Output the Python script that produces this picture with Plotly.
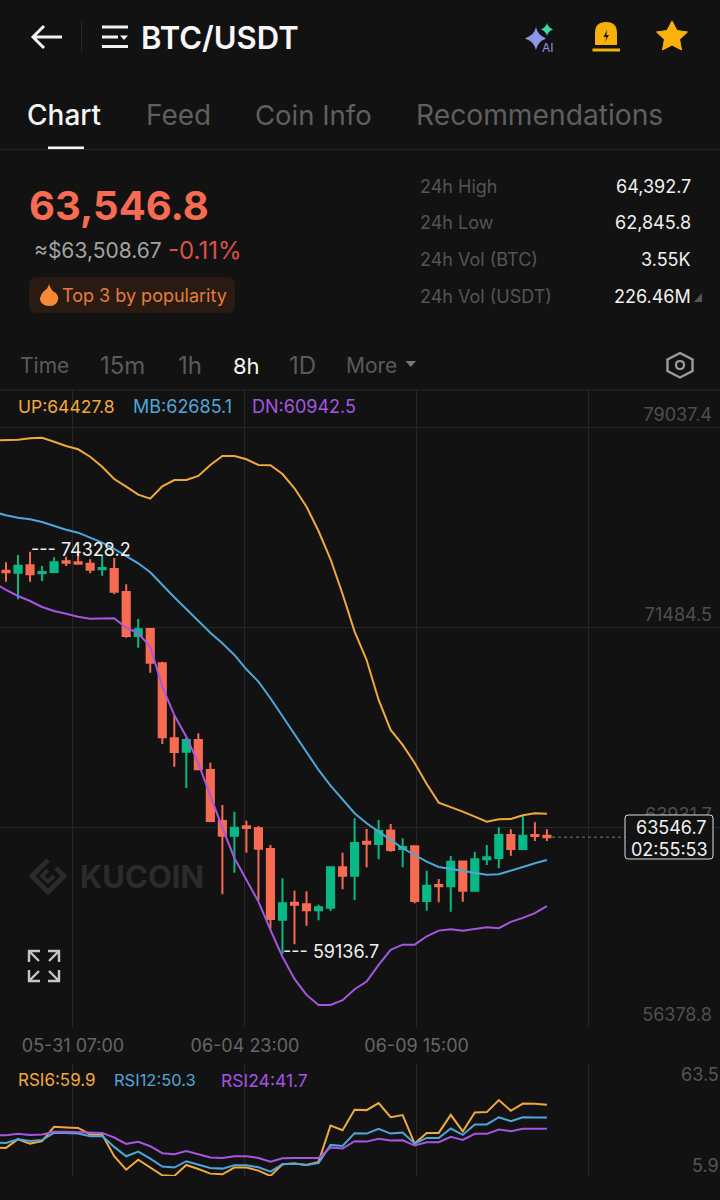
import re
import plotly.graph_objects as go

# 8h candles
opens = [73611, 73536, 73815, 73513, 73562, 73966, 73928, 73876, 73664, 73675, 72807, 71146,
         71410, 70115, 67283, 66777, 67219, 66086, 64160, 63605, 63960, 63884, 63103, 60433,
         61075, 61015, 60788, 60886, 62412, 62095, 63378, 63292, 63801, 63103, 63205, 61139,
         61743, 61694, 62630, 61528, 62714, 62763, 63631, 63103, 63631, 63605]
highs = [73928, 74204, 74328.2, 73789, 74117, 74140, 74280, 74042, 74204, 74091, 73098, 71788,
         71410, 70175, 68125, 67294, 67472, 66361, 64764, 64511, 64171, 63971, 63254, 61996,
         61528, 61505, 60999, 62412, 62963, 64262, 63858, 64198, 64047, 63507, 63205, 62283,
         61970, 62838, 62642, 63001, 63254, 63922, 63847, 64360, 64111, 63847]
lows = [73196, 72531, 73196, 73222, 73513, 73789, 73853, 73513, 73422, 72731, 71081, 70704,
        69760, 67068, 66210, 65406, 66112, 64111, 61392, 62208, 62963, 61177, 60071, 59136.7,
        59504, 60206, 60410, 60762, 61581, 61177, 62412, 62714, 63001, 62412, 61052, 60773,
        61090, 60735, 61113, 61528, 62499, 62374, 62850, 63065, 63405, 63405]
closes = [73551, 73800, 73475, 73562, 73928, 73913, 73876, 73649, 73713, 72818, 71146, 71399,
          70137, 67319, 66765, 67219, 66112, 64160, 63605, 63907, 63896, 63114, 60459, 61052,
          60999, 60788, 60901, 62412, 62095, 63329, 63303, 63782, 63065, 63178, 61139, 61717,
          61694, 62623, 61528, 62714, 62789, 63631, 63103, 63605, 63593, 63546.7]

# bollinger bands, first point is the candle cut off at the left edge
boll_up = [78535, 78535, 78558, 78610, 78633, 78482, 78320, 78195, 77916, 77538, 77074, 76783,
           76481, 76330, 76798, 77036, 77036, 77187, 77602, 77942, 77942, 77818, 77602, 77591,
           77262, 76722, 76028, 75110, 74042, 72731, 71308, 70239, 68729, 67596, 67030, 66350,
           65557, 64851, 64689, 64511, 64322, 64133, 64224, 64235, 64375, 64450, 64427.8]
boll_mb = [75828, 75703, 75613, 75552, 75450, 75299, 75159, 75046, 74872, 74669, 74431, 74167,
           73891, 73551, 73071, 72607, 72165, 71723, 71270, 70870, 70428, 69888, 69420, 68793,
           68125, 67471, 66777, 66086, 65493, 64953, 64451, 64073, 63771, 63443, 63129, 62876,
           62623, 62423, 62348, 62272, 62197, 62133, 62148, 62299, 62423, 62563, 62685.1]
boll_dn = [73158, 72883, 72656, 72467, 72241, 72090, 71988, 71875, 71799, 71814, 71814, 71459,
           71248, 70742, 69231, 68160, 67342, 66337, 65077, 63896, 62763, 61932, 61113, 60044,
           59025, 58194, 57590, 57212, 57212, 57390, 57805, 58092, 58722, 59289, 59489, 59489,
           59806, 60018, 60071, 60018, 60082, 60146, 60109, 60347, 60498, 60676, 60942.5]

rsi6 = [27.5, 27.2, 33.8, 30.5, 32.3, 43.2, 42.7, 42.4, 37.4, 37.4, 20.9, 10.7, 18.3, 12.3, 6.4, 5.9,
        14.3, 11.2, 7.7, 7.2, 12.3, 12.3, 10.0, 5.9, 14.8, 15.3, 14.3, 16.6, 44.2, 40.7, 56.1, 55.9,
        61.2, 50.5, 52.1, 30.5, 38.6, 38.6, 52.3, 39.7, 54.1, 54.4, 63.5, 55.4, 60.9, 60.7, 59.9]
rsi12 = [31.3, 31.0, 33.8, 32.5, 33.3, 38.6, 38.6, 38.1, 36.1, 36.3, 28.0, 20.9, 24.4, 19.1, 13.1, 12.3,
         17.1, 14.8, 12.0, 11.5, 14.0, 14.0, 12.5, 9.2, 14.8, 15.3, 14.3, 15.8, 29.5, 28.7, 38.4, 38.1,
         41.7, 38.1, 38.9, 30.5, 34.8, 34.8, 41.9, 37.1, 45.0, 45.0, 50.5, 47.5, 50.5, 50.3, 50.3]
rsi24 = [36.9, 36.9, 37.9, 37.1, 37.4, 39.4, 39.4, 39.1, 38.4, 38.6, 35.1, 30.3, 31.8, 28.5, 23.2, 22.4,
         24.9, 22.4, 19.9, 19.6, 20.9, 20.9, 19.6, 16.8, 19.4, 19.6, 19.4, 19.6, 27.5, 26.7, 32.3, 32.0,
         34.1, 32.8, 33.0, 29.0, 31.5, 31.5, 35.6, 33.3, 37.9, 37.9, 41.2, 39.9, 41.7, 41.7, 41.7]

price_ticks = [79037.4, 71484.5, 63931.7, 56378.8]
date_ticks = [5.57, 19.88, 34.16, 48.45]
date_labels = ["05-31 07:00", "06-04 23:00", "06-09 15:00", ""]

candle_x = list(range(len(opens)))
line_x = list(range(-1, len(opens)))

BG = "#121212"
GRID = "#272727"
RED = "#f66b52"
GREEN = "#08b985"
ORANGE = "#f2a93b"
BLUE = "#4fa6da"
PURPLE = "#a656e2"
FONT = "Inter"


def pth(d):
    # path written in screen pixels -> paper fractions
    out, is_x = [], True
    for tok in re.findall(r"[A-Za-z]|-?\d+\.?\d*", d):
        if tok.isalpha():
            out.append(tok)
            is_x = True
        else:
            out.append(f"{float(tok) / 720:.5f}" if is_x else f"{1 - float(tok) / 1200:.5f}")
            is_x = not is_x
    return " ".join(out)


shapes = []


def draw(d, fill=None, line=None, width=0):
    shapes.append(dict(type="path", path=pth(d), xref="paper", yref="paper", layer="above",
                       fillcolor=fill or "rgba(0,0,0,0)",
                       line=dict(color=line or "rgba(0,0,0,0)", width=width)))


annotations = []


def label(x, y, text, size, color, anchor="left", weight=400):
    annotations.append(dict(x=x / 720, y=1 - y / 1200, xref="paper", yref="paper", text=text,
                            showarrow=False, xanchor=anchor, yanchor="middle", borderpad=0,
                            font=dict(family=FONT, size=size, color=color, weight=weight)))


fig = go.Figure()

fig.add_trace(go.Candlestick(
    x=candle_x, open=opens, high=highs, low=lows, close=closes,
    increasing=dict(line=dict(color=GREEN, width=2), fillcolor=GREEN),
    decreasing=dict(line=dict(color=RED, width=2), fillcolor=RED),
    whiskerwidth=0, showlegend=False, hoverinfo="skip", xaxis="x", yaxis="y",
))
for vals, col in [(boll_up, ORANGE), (boll_mb, BLUE), (boll_dn, PURPLE)]:
    fig.add_trace(go.Scatter(x=line_x, y=vals, mode="lines", line=dict(color=col, width=2),
                             showlegend=False, hoverinfo="skip", xaxis="x", yaxis="y"))
for vals, col in [(rsi6, ORANGE), (rsi12, BLUE), (rsi24, PURPLE)]:
    fig.add_trace(go.Scatter(x=line_x, y=vals, mode="lines", line=dict(color=col, width=2),
                             showlegend=False, hoverinfo="skip", xaxis="x2", yaxis="y2"))

# header
draw("M 62 37 L 33 37 M 44 26 L 33 37 L 44 48", line="#f2f2f2", width=3)
draw("M 81.5 21 L 81.5 52", line="#2b2b2b", width=1)
draw("M 102 27 L 128 27 M 102 37 L 118 37 M 102 46.5 L 128 46.5", line="#f2f2f2", width=3)
draw("M 120 35.5 L 128 35.5 L 124 40 Z", fill="#f2f2f2")
label(140, 37, "BTC/USDT", 31, "#f7f7f7", weight=600)
draw("M 536 27 Q 537.5 35 546 38.5 Q 537.5 42 536 50 Q 534.5 42 525 38.5 Q 534.5 35 536 27 Z", fill="#8f96ea")
draw("M 547 23 Q 548 27.5 553 29.5 Q 548 31 547 36 Q 546 31 541 29.5 Q 546 27.5 547 23 Z", fill="#3fd6b0")
label(541, 47, "AI", 12, "#a58ce8")
draw("M 595 45 L 595 33 Q 595 22 606 22 Q 617 22 617 33 L 617 45 Z", fill="#f6b10a")
draw("M 592.5 50 L 620 50", line="#f6b10a", width=3)
draw("M 607 30 L 603.5 37 L 606.5 37 L 605 42 L 609 35 L 606.5 35 Z", fill="#221a05")
draw("M 672 21 L 677 30.5 L 687.5 32 L 679.6 39.5 L 681.5 50 L 672 45 L 662.5 50 "
     "L 664.4 39.5 L 656.5 32 L 667 30.5 Z", fill="#fab208", line="#fab208", width=1)

# tabs
label(26, 115, "Chart", 28, "#f4f4f4", weight=500)
label(145, 115, "Feed", 28, "#5f5f5f")
label(254, 115, "Coin Info", 27.5, "#5f5f5f")
label(415, 115, "Recommendations", 28.2, "#5f5f5f")
draw("M 48 148.3 L 84 148.3", line="#f4f4f4", width=3.5)
draw("M 0 149.6 L 720 149.6", line="#262626", width=1)

# price block
label(28, 206, "63,546.8", 40, RED, weight=700)
label(33, 250, "≈$63,508.67", 21, "#a3a3a3")
label(167, 250, "-0.11%", 24, "#d9524a")
draw("M 37 277 L 227 277 Q 235 277 235 285 L 235 305 Q 235 313 227 313 L 37 313 Q 29 313 29 305 "
     "L 29 285 Q 29 277 37 277 Z", fill="#291b12")
draw("M 49 284 Q 51 291 56 293 Q 59 297 58 300 Q 56 306 50 306 Q 42 306 40 300 Q 40 295 44 291 "
     "Q 48 289 49 284 Z", fill="#f58a36")
label(61, 295, "Top 3 by popularity", 18, "#e47d3d")

for yy, name, val in [(186, "24h High", "64,392.7"), (223, "24h Low", "62,845.8"),
                      (259, "24h Vol (BTC)", "3.55K"), (296, "24h Vol (USDT)", "226.46M")]:
    label(419, yy, name, 18, "#555555")
    label(692, yy, val, 18, "#f0f0f0", anchor="right")
draw("M 702 293 L 702 302 L 694 302 Z", fill="#555555")

# period selector
for xx, txt, col, sz in [(19, "Time", "#5a5a5a", 21), (99, "15m", "#5a5a5a", 24), (177, "1h", "#5a5a5a", 24),
                         (232, "8h", "#f4f4f4", 22), (288, "1D", "#5a5a5a", 24), (345, "More", "#5a5a5a", 21)]:
    label(xx, 366, txt, sz, col)
draw("M 405.5 361 L 416 361 L 410.7 367 Z", fill="#777777")
draw("M 680 353 L 692.5 359.5 L 692.5 371 L 680 377.5 L 667.5 371 L 667.5 359.5 Z", line="#9c9c9c", width=2.4)
draw("M 676 365 Q 676 361 680 361 Q 684 361 684 365 Q 684 369 680 369 Q 676 369 676 365 Z", line="#9c9c9c", width=2.2)

# chart frame + legends
draw("M 0 390 L 720 390", line="#2a2a2a", width=1)
label(17, 406, "UP:64427.8", 17.5, ORANGE)
label(132, 406, "MB:62685.1", 18, BLUE)
label(251, 406, "DN:60942.5", 18, PURPLE)
label(17, 1080, "RSI6:59.9", 17, ORANGE)
label(113, 1080, "RSI12:50.3", 16.5, BLUE)
label(220, 1080, "RSI24:41.7", 17.5, PURPLE)
label(720, 1074, "63.5", 18, "#555555", anchor="right")
label(720, 1165, "5.9", 18, "#555555", anchor="right")

# watermark
draw("M 48 860 L 32 876 L 48 892 L 64 876 L 56 868", line="#2b2b2b", width=5)
draw("M 48 870 L 42 876 L 48 882 L 54 876", line="#2b2b2b", width=4)
label(79, 876, "KUCOIN", 31, "#2b2b2b", weight=700)

# expand icon
draw("M 29 962 L 29 951 L 40 951 M 29 951 L 39 961 M 59 962 L 59 951 L 48 951 M 59 951 L 49 961 "
     "M 29 970 L 29 981 L 40 981 M 29 981 L 39 971 M 59 970 L 59 981 L 48 981 M 59 981 L 49 971",
     line="#c6c6c6", width=2.4)

# last price line + countdown box
shapes.append(dict(type="line", xref="paper", yref="y", x0=552 / 720, x1=625 / 720, y0=closes[-1], y1=closes[-1],
                   line=dict(color="#777777", width=1, dash="dot")))
draw("M 628 815 L 710 815 Q 713 815 713 818 L 713 856 Q 713 859 710 859 L 628 859 Q 625 859 625 856 "
     "L 625 818 Q 625 815 628 815 Z", fill=BG, line="#dddddd", width=1)
label(671, 827, f"{closes[-1]}", 18, "#f2f2f2", anchor="center")
label(669, 849, "02:55:53", 18, "#f2f2f2", anchor="center")

# high / low markers
for xi, val in [(2, max(highs)), (23, min(lows))]:
    annotations.append(dict(x=xi, y=val, xref="x", yref="y", text=f"--- {val}", showarrow=False,
                            xanchor="left", yanchor="middle", borderpad=0, yshift=2,
                            font=dict(family=FONT, size=18, color="#f0f0f0")))

x_rng = [-0.5, 59.4]
fig.update_layout(
    width=720, height=1200, margin=dict(l=0, r=0, t=0, b=0),
    paper_bgcolor=BG, plot_bgcolor=BG, showlegend=False, boxgap=0.15,
    font=dict(family=FONT),
    xaxis=dict(domain=[0, 1], range=x_rng, anchor="y", tickvals=date_ticks, ticktext=date_labels,
               showgrid=True, gridcolor=GRID, gridwidth=1, zeroline=False, showline=False,
               rangeslider=dict(visible=False), ticks="", ticklabelstandoff=6,
               tickfont=dict(family=FONT, size=18, color="#666666")),
    yaxis=dict(domain=[1 - 1027 / 1200, 1 - 390 / 1200], range=[56378.8, 80434.5], anchor="x", side="right",
               tickvals=price_ticks, ticktext=[str(p) for p in price_ticks], ticklabelposition="inside",
               ticklabelshift=-12, ticklabelstandoff=5, showgrid=True, gridcolor=GRID, gridwidth=1,
               zeroline=False, showline=False, ticks="",
               tickfont=dict(family=FONT, size=18, color="#4f4f4f")),
    xaxis2=dict(domain=[0, 1], range=x_rng, anchor="y2", tickvals=date_ticks, showticklabels=False,
                showgrid=True, gridcolor=GRID, gridwidth=1, zeroline=False, showline=False, ticks=""),
    yaxis2=dict(domain=[1 - 1176 / 1200, 1 - 1064 / 1200], range=[5.9, 90.9], anchor="x2",
                tickvals=[5.9], showticklabels=False, showgrid=True, gridcolor=GRID, gridwidth=1,
                zeroline=False, showline=False, ticks=""),
    shapes=shapes, annotations=annotations,
)

fig.write_html("out.html", config={"displayModeBar": False}, post_script="document.body.style.margin='0';")
